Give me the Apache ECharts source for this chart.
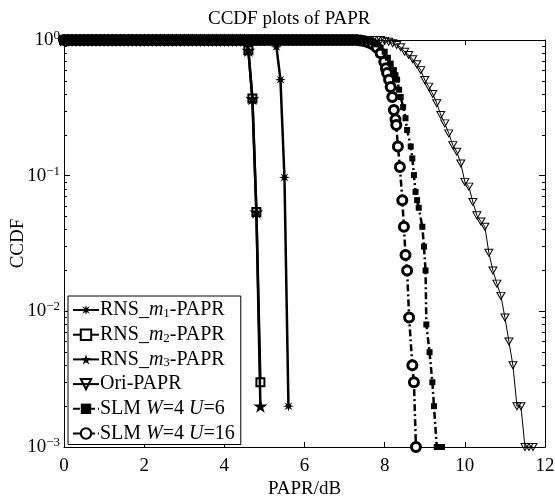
<!DOCTYPE html>
<html>
<head>
<meta charset="utf-8">
<script src="https://cdn.jsdelivr.net/npm/echarts@6/dist/echarts.min.js"></script>
<style>
  html, body { margin: 0; padding: 0; background: #fff; }
  #papr_ccdf { width: 555px; height: 499px; }
</style>
</head>
<body>
<div id="papr_ccdf"></div>
<script>
// PAPR thresholds in dB, 0.1 dB apart
var papr = [];
for (var i = 0; i <= 120; i++) papr.push(i / 10);

// CCDF = 1 on the flat part of every curve, one value per threshold
var m1Top = [
    1,1,1,1,1,1,1,1,1,1,1,1,1,1,1,1,1,1,1,1,
    1,1,1,1,1,1,1,1,1,1,1,1,1,1,1,1,1,1,1,1,
    1,1,1,1,1,1,1,1,1,1,1,1,1
];
var m2Top = [
    1,1,1,1,1,1,1,1,1,1,1,1,1,1,1,1,1,1,1,1,
    1,1,1,1,1,1,1,1,1,1,1,1,1,1,1,1,1,1,1,1,
    1,1,1,1,1,1
];
var m3Top = [
    1,1,1,1,1,1,1,1,1,1,1,1,1,1,1,1,1,1,1,1,
    1,1,1,1,1,1,1,1,1,1,1,1,1,1,1,1,1,1,1,1,
    1,1,1,1,1,1
];
var oriTop = [
    1,1,1,1,1,1,1,1,1,1,1,1,1,1,1,1,1,1,1,1,
    1,1,1,1,1,1,1,1,1,1,1,1,1,1,1,1,1,1,1,1,
    1,1,1,1,1,1,1,1,1,1,1,1,1,1,1,1,1,1,1,1,
    1,1,1,1,1,1,1,1,1,1,1,1,1,1,1,1,1,1,1,1
];
var slm6Top = [
    1,1,1,1,1,1,1,1,1,1,1,1,1,1,1,1,1,1,1,1,
    1,1,1,1,1,1,1,1,1,1,1,1,1,1,1,1,1,1,1,1,
    1,1,1,1,1,1,1,1,1,1,1,1,1,1,1,1,1,1,1,1,
    1,1,1,1,1,1,1,1,1,1,1,1,1,1,1
];
var slm16Top = [
    1,1,1,1,1,1,1,1,1,1,1,1,1,1,1,1,1,1,1,1,
    1,1,1,1,1,1,1,1,1,1,1,1,1,1,1,1,1,1,1,1,
    1,1,1,1,1,1,1,1,1,1,1,1,1,1,1,1,1,1,1,1,
    1,1,1,1,1,1,1,1,1,1,1,1,1,1
];

// falling parts [PAPR dB, CCDF]
var m1Tail = [[5.3, 0.89], [5.4, 0.51], [5.5, 0.097], [5.6, 0.002]];
var m2Tail = [[4.6, 0.84], [4.7, 0.37], [4.8, 0.054], [4.9, 0.003]];
var m3Tail = [[4.6, 0.84], [4.7, 0.37], [4.8, 0.054], [4.9, 0.002]];
var oriTail = [
    [8.0, 0.985], [8.1, 0.97], [8.2, 0.946], [8.3, 0.919], [8.4, 0.884],
    [8.5, 0.82], [8.6, 0.775], [8.7, 0.721], [8.8, 0.662], [8.9, 0.6],
    [9.0, 0.507], [9.1, 0.453], [9.2, 0.40], [9.3, 0.342], [9.4, 0.28],
    [9.5, 0.243], [9.6, 0.205], [9.7, 0.168], [9.8, 0.150], [9.9, 0.123],
    [10.0, 0.090], [10.1, 0.083], [10.2, 0.064], [10.3, 0.051], [10.4, 0.046],
    [10.5, 0.042], [10.6, 0.027], [10.7, 0.020], [10.8, 0.016], [10.9, 0.013],
    [11.0, 0.009], [11.1, 0.006], [11.2, 0.004], [11.3, 0.002], [11.4, 0.002],
    [11.5, 0.001], [11.6, 0.001], [11.7, 0.001]
];
var slm6Tail = [
    [7.5, 0.99], [7.6, 0.98], [7.7, 0.96], [7.8, 0.93], [7.9, 0.88],
    [8.0, 0.82], [8.08, 0.74], [8.15, 0.67], [8.23, 0.60], [8.27, 0.55],
    [8.31, 0.51], [8.36, 0.43], [8.40, 0.38], [8.46, 0.32], [8.52, 0.265],
    [8.56, 0.217], [8.65, 0.164], [8.69, 0.134], [8.73, 0.101], [8.77, 0.076],
    [8.81, 0.066], [8.85, 0.058], [8.94, 0.042], [8.98, 0.030], [9.02, 0.020],
    [9.04, 0.008], [9.12, 0.005], [9.19, 0.003], [9.23, 0.002], [9.30, 0.001],
    [9.35, 0.001], [9.43, 0.001]
];
var slm16Tail = [
    [7.4, 0.99], [7.5, 0.98], [7.6, 0.96], [7.7, 0.93], [7.8, 0.88],
    [7.9, 0.8], [7.99, 0.69], [8.03, 0.62], [8.06, 0.57], [8.11, 0.51],
    [8.15, 0.45], [8.19, 0.38], [8.23, 0.305], [8.27, 0.26], [8.29, 0.236],
    [8.33, 0.164], [8.38, 0.116], [8.44, 0.066], [8.48, 0.042], [8.52, 0.026],
    [8.56, 0.020], [8.61, 0.009], [8.69, 0.004], [8.73, 0.003], [8.78, 0.001]
];

var decades = [0.001, 0.01, 0.1, 1];
var minorTicks = [
    0.002, 0.003, 0.004, 0.005, 0.006, 0.007, 0.008, 0.009,
    0.02, 0.03, 0.04, 0.05, 0.06, 0.07, 0.08, 0.09,
    0.2, 0.3, 0.4, 0.5, 0.6, 0.7, 0.8, 0.9
];

function toPairs(top, tail) {
    return top.map(function (v, k) { return [papr[k], v]; }).concat(tail);
}

var serif = 'Liberation Serif';
var asterisk = 'path://M20,10L13.70,11.53L17.07,17.07L11.53,13.70L10,20L8.47,13.70L2.93,17.07L6.30,11.53L0,10L6.30,8.47L2.93,2.93L8.47,6.30L10,0L11.53,6.30L17.07,2.93L13.70,8.47Z';
var star = 'path://M10,0L12.25,6.91L19.51,6.91L13.63,11.18L15.88,18.09L10,13.82L4.12,18.09L6.37,11.18L0.49,6.91L7.75,6.91Z';
var triDown = 'path://M0,0L10,0L5,9Z';
var dashDot = [7, 3, 2, 3];

var legendText = {
    'RNS_m1-PAPR': 'RNS_{i|m}{sub|1}-PAPR',
    'RNS_m2-PAPR': 'RNS_{i|m}{sub|2}-PAPR',
    'RNS_m3-PAPR': 'RNS_{i|m}{sub|3}-PAPR',
    'Ori-PAPR': 'Ori-PAPR',
    'SLM W=4 U=6': 'SLM {i|W}=4 {i|U}=6',
    'SLM W=4 U=16': 'SLM {i|W}=4 {i|U}=16'
};

function xAxisOf(pos, labels) {
    return {
        type: 'value', position: pos, min: 0, max: 12, interval: 2,
        axisLine: { onZero: false, lineStyle: { color: '#000', width: 1 } },
        axisTick: { inside: true, length: 5, lineStyle: { color: '#000' } },
        axisLabel: { show: labels, color: '#000', fontFamily: serif, fontSize: 19, margin: 10 },
        splitLine: { show: false }
    };
}

function yAxisOf(pos, ticks, len, labels) {
    return {
        type: 'log', logBase: 10, position: pos, min: 0.001, max: 1,
        axisLine: { show: len > 4, onZero: false, lineStyle: { color: '#000', width: 1 } },
        axisTick: { inside: true, length: len, customValues: ticks, lineStyle: { color: '#000' } },
        axisLabel: {
            show: labels, customValues: decades, margin: 4, color: '#000',
            formatter: function (v) {
                var e = Math.round(Math.log(v) / Math.LN10);
                return '{b|10}{s|' + (e < 0 ? '\u2212' + (-e) : e) + '}';
            },
            rich: {
                b: { fontFamily: serif, fontSize: 19, lineHeight: 22, color: '#000' },
                s: { fontFamily: serif, fontSize: 13, lineHeight: 13, verticalAlign: 'top', color: '#000' }
            }
        },
        splitLine: { show: false }
    };
}

var yMain = yAxisOf('left', decades, 6, true);
yMain.name = 'CCDF';
yMain.nameLocation = 'middle';
yMain.nameGap = 36;
yMain.nameMoveOverlap = false;
yMain.nameTextStyle = { fontFamily: serif, fontSize: 19, color: '#000' };

var xMain = xAxisOf('bottom', true);
xMain.name = 'PAPR/dB';
xMain.nameLocation = 'middle';
xMain.nameGap = 33;
xMain.nameMoveOverlap = false;
xMain.nameTextStyle = { fontFamily: serif, fontSize: 19, color: '#000' };

var option = {
    animation: false,
    backgroundColor: '#fff',
    title: {
        text: 'CCDF plots of PAPR',
        left: 203, top: 5,
        textStyle: { fontFamily: serif, fontSize: 19, fontWeight: 'normal', color: '#000' }
    },
    grid: { left: 64, right: 10, top: 40, bottom: 52, containLabel: false, outerBoundsMode: 'none' },
    legend: {
        orient: 'vertical', left: 68, top: 296,
        padding: [4, 6, 1, 4], itemGap: 4.7, itemWidth: 26, itemHeight: 13,
        backgroundColor: '#fff', borderColor: '#000', borderWidth: 1,
        textStyle: {
            fontFamily: serif, fontSize: 20, lineHeight: 20, color: '#000', padding: [0, 0, 0, -4],
            rich: {
                i: { fontFamily: serif, fontSize: 20, lineHeight: 20, fontStyle: 'italic', color: '#000' },
                sub: { fontFamily: serif, fontSize: 13, lineHeight: 13, verticalAlign: 'bottom', color: '#000' }
            }
        },
        formatter: function (name) { return legendText[name]; }
    },
    xAxis: [xMain, xAxisOf('top', false)],
    yAxis: [
        yMain,
        yAxisOf('left', minorTicks, 3, false),
        yAxisOf('right', decades, 6, false),
        yAxisOf('right', minorTicks, 3, false)
    ],
    series: [
        {
            name: 'RNS_m1-PAPR', type: 'line', clip: false, showAllSymbol: true, z: 4,
            data: toPairs(m1Top, m1Tail),
            symbol: asterisk, symbolSize: 11, symbolKeepAspect: true,
            itemStyle: { color: '#000' },
            lineStyle: { color: '#000', width: 2.5 }
        },
        {
            name: 'RNS_m2-PAPR', type: 'line', clip: false, showAllSymbol: true, z: 4,
            data: toPairs(m2Top, m2Tail),
            symbol: 'rect', symbolSize: 8,
            itemStyle: { color: '#fff', borderColor: '#000', borderWidth: 2 },
            lineStyle: { color: '#000', width: 2.5 }
        },
        {
            name: 'RNS_m3-PAPR', type: 'line', clip: false, showAllSymbol: true, z: 6,
            data: toPairs(m3Top, m3Tail),
            symbol: star, symbolSize: 14, symbolKeepAspect: true,
            itemStyle: { color: '#000' },
            lineStyle: { color: '#000', width: 2.5 }
        },
        {
            name: 'Ori-PAPR', type: 'line', clip: false, showAllSymbol: true, z: 3,
            data: toPairs(oriTop, oriTail),
            symbol: triDown, symbolSize: [8, 7],
            itemStyle: { color: 'rgba(255,255,255,0)', borderColor: '#000', borderWidth: 1 },
            lineStyle: { color: '#000', width: 1 }
        },
        {
            name: 'SLM W=4 U=6', type: 'line', clip: false, showAllSymbol: true, z: 5,
            data: toPairs(slm6Top, slm6Tail),
            symbol: 'rect', symbolSize: 6,
            itemStyle: { color: '#000' },
            lineStyle: { color: '#000', width: 2.5, type: dashDot }
        },
        {
            name: 'SLM W=4 U=16', type: 'line', clip: false, showAllSymbol: true, z: 2,
            data: toPairs(slm16Top, slm16Tail),
            symbol: 'circle', symbolSize: 9,
            itemStyle: { color: '#fff', borderColor: '#000', borderWidth: 3 },
            lineStyle: { color: '#000', width: 2.5, type: dashDot }
        }
    ]
};

var chart = echarts.init(document.getElementById('papr_ccdf'));
chart.setOption(option);
</script>
</body>
</html>
